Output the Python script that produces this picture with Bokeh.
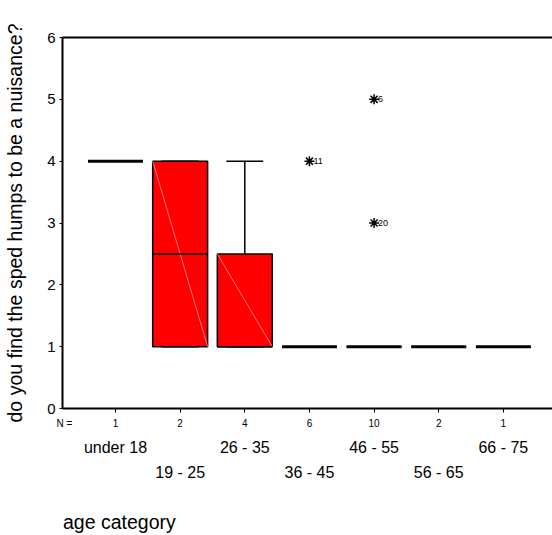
from bokeh.plotting import figure
from bokeh.models import Range1d, LinearAxis, FixedTicker, ColumnDataSource
from bokeh.core.properties import value
from bokeh.embed import file_html
from bokeh.resources import INLINE

# ---- data ----
categories = ["under 18", "19 - 25", "26 - 35", "36 - 45", "46 - 55", "56 - 65", "66 - 75"]
n_counts = [1, 2, 4, 6, 10, 2, 1]
q1 = [4, 1, 1, 1, 1, 1, 1]
median = [4, 2.5, 1, 1, 1, 1, 1]
q3 = [4, 4, 2.5, 1, 1, 1, 1]
whisker_low = [4, 1, 1, 1, 1, 1, 1]
whisker_high = [4, 4, 4, 1, 1, 1, 1]
outlier_cat = [4, 5, 5]          # 1-based category position
outlier_val = [4, 5, 3]
outlier_case = ["11", "6", "20"]
y_ticks = [0, 1, 2, 3, 4, 5, 6]

FONT = "Liberation Sans"
BOX_HALF = 0.425
CAP_HALF = 0.285
X_START, X_END = 0.18, 7.76
N_LABEL_X = X_START + 0.03       # where the "N =" caption sits
XTITLE_X = X_START + 0.88        # centre of the "age category" caption

pos = list(range(1, len(categories) + 1))

p = figure(width=552, height=535,
           x_range=Range1d(X_START, X_END), y_range=Range1d(0, 6),
           x_axis_type=None, y_axis_type=None,
           output_backend="svg", toolbar_location=None,
           min_border_left=62, min_border_right=0,
           min_border_top=37, min_border_bottom=127)
p.outline_line_color = None
p.background_fill_color = "white"
p.border_fill_color = "white"

# ---- axes ----
yax = LinearAxis(ticker=FixedTicker(ticks=y_ticks),
                 axis_label="do you find the sped humps to be a nuisance?")
yax.axis_line_width = 2
yax.major_tick_out = 3
yax.major_tick_in = 0
yax.minor_tick_line_color = None
yax.major_label_text_font = FONT
yax.major_label_text_font_size = "15px"
yax.major_label_text_color = "black"
yax.major_label_standoff = 4
yax.axis_label_text_font = FONT
yax.axis_label_text_font_style = "normal"
yax.axis_label_text_font_size = "19.5px"
yax.axis_label_text_color = "black"
yax.axis_label_standoff = 18
p.add_layout(yax, "left")

tax = LinearAxis(ticker=FixedTicker(ticks=[]))
tax.axis_line_width = 2
tax.major_tick_line_color = None
tax.minor_tick_line_color = None
p.add_layout(tax, "above")

# tick marks row (category ticks drawn as minor ticks, so no labels here)
xt = LinearAxis(ticker=FixedTicker(ticks=[], minor_ticks=pos))
xt.axis_line_width = 2
xt.major_tick_line_color = None
xt.minor_tick_out = 4
xt.minor_tick_in = 0
xt.minor_tick_line_width = 1
xt.minor_tick_line_color = "black"
xt.major_label_standoff = 0
p.add_layout(xt, "below")


def label_axis(ticks, labels, size, standoff):
    ax = LinearAxis(ticker=FixedTicker(ticks=ticks),
                    major_label_overrides={float(t): l for t, l in zip(ticks, labels)})
    ax.axis_line_color = None
    ax.major_tick_line_color = None
    ax.minor_tick_line_color = None
    ax.major_label_text_font = FONT
    ax.major_label_text_font_size = size
    ax.major_label_text_color = "black"
    ax.major_label_standoff = standoff
    p.add_layout(ax, "below")
    return ax


# N counts row
label_axis([N_LABEL_X] + pos, ["N ="] + [str(n) for n in n_counts], "10px", -1)
# staggered category rows
odd_pos = pos[0::2]
even_pos = pos[1::2]
label_axis(odd_pos, [categories[x - 1] for x in odd_pos], "16px", 1)
label_axis(even_pos, [categories[x - 1] for x in even_pos], "16px", -1)
# x axis title row
label_axis([XTITLE_X], ["age category"], "19.5px", 21)

# ---- boxes ----
src = ColumnDataSource(dict(
    x=pos,
    left=[x - BOX_HALF for x in pos],
    right=[x + BOX_HALF for x in pos],
    q1=q1, q3=q3, med=median,
    lo=whisker_low, hi=whisker_high,
    capl=[x - CAP_HALF for x in pos],
    capr=[x + CAP_HALF for x in pos],
    medw=[3 if a == b else 1.5 for a, b in zip(q1, q3)],
))

# whiskers
p.segment(x0="x", y0="q3", x1="x", y1="hi", source=src, line_color="black", line_width=1.5)
p.segment(x0="x", y0="q1", x1="x", y1="lo", source=src, line_color="black", line_width=1.5)
p.segment(x0="capl", y0="hi", x1="capr", y1="hi", source=src, line_color="black", line_width=1.5)
p.segment(x0="capl", y0="lo", x1="capr", y1="lo", source=src, line_color="black", line_width=1.5)

p.quad(left="left", right="right", bottom="q1", top="q3", source=src,
       fill_color="#ff0000", line_color="black", line_width=1.5)

# faint diagonal rendering artefact inside the filled boxes
diag = [i for i in range(len(pos)) if q3[i] > q1[i]]
p.segment(x0=[pos[i] - BOX_HALF for i in diag], y0=[q3[i] for i in diag],
          x1=[pos[i] + BOX_HALF for i in diag], y1=[q1[i] for i in diag],
          line_color="#ff9a9a", line_width=0.8)

p.segment(x0="left", y0="med", x1="right", y1="med", source=src,
          line_color="black", line_width="medw")

# ---- outliers ----
osrc = ColumnDataSource(dict(x=outlier_cat, y=outlier_val, t=outlier_case))
p.scatter(x="x", y="y", source=osrc, marker="asterisk", size=10,
          line_color="black", line_width=1.5)
p.text(x="x", y="y", text="t", source=osrc, x_offset=4,
       text_font=value(FONT), text_font_size="9px",
       text_align="left", text_baseline="middle", text_color="black")

open("out.html", "w").write(file_html(p, INLINE))
